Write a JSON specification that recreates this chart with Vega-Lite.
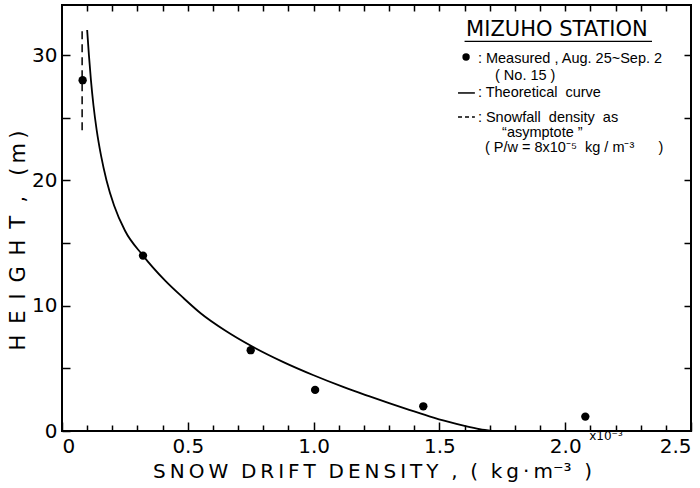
{
  "$schema": "https://vega.github.io/schema/vega-lite/v6.json",
  "width": 629,
  "height": 426,
  "autosize": {"type": "none"},
  "padding": {"left": 62, "top": 5, "right": 9, "bottom": 57},
  "background": "white",
  "config": {
    "view": {"stroke": "black", "strokeWidth": 2},
    "font": "DejaVu Sans",
    "axis": {
      "grid": false,
      "domain": false,
      "tickColor": "black",
      "tickWidth": 1.5,
      "labelColor": "black",
      "titleColor": "black",
      "labelFont": "DejaVu Sans",
      "titleFont": "DejaVu Sans",
      "labelFontSize": 20,
      "titleFontSize": 20,
      "titleFontWeight": "normal"
    }
  },
  "datasets": {
    "curve": [
      {"d": 0.100, "h": 32}, {"d": 0.107, "h": 30}, {"d": 0.115, "h": 28}, {"d": 0.125, "h": 26},
      {"d": 0.138, "h": 24}, {"d": 0.155, "h": 22}, {"d": 0.177, "h": 20}, {"d": 0.207, "h": 18},
      {"d": 0.250, "h": 16}, {"d": 0.322, "h": 14}, {"d": 0.41, "h": 12}, {"d": 0.478, "h": 10.7},
      {"d": 0.551, "h": 9.4}, {"d": 0.65, "h": 8.0}, {"d": 0.751, "h": 6.8}, {"d": 0.88, "h": 5.5},
      {"d": 1.0, "h": 4.45}, {"d": 1.12, "h": 3.5}, {"d": 1.22, "h": 2.78}, {"d": 1.3, "h": 2.22},
      {"d": 1.38, "h": 1.68}, {"d": 1.46, "h": 1.17}, {"d": 1.53, "h": 0.76}, {"d": 1.6, "h": 0.4},
      {"d": 1.66, "h": 0.14}, {"d": 1.71, "h": 0}
    ],
    "measured": [
      {"d": 0.082, "h": 28.0}, {"d": 0.322, "h": 14.0}, {"d": 0.75, "h": 6.45},
      {"d": 1.006, "h": 3.28}, {"d": 1.436, "h": 1.97}, {"d": 2.08, "h": 1.15}
    ],
    "asymptote": [{"d": 0.08, "h": 24, "h2": 32}],
    "heading": [{"x": 1.967, "y": 32.0, "label": "MIZUHO STATION"}],
    "underline": [{"x": 1.6, "x2": 2.345, "y": 31.1}],
    "legendText": [
      {"x": 1.653, "y": 29.7, "label": ": Measured , Aug. 25~Sep. 2"},
      {"x": 1.721, "y": 28.3, "label": "( No. 15 )"},
      {"x": 1.653, "y": 26.98, "label": ": Theoretical\u00a0 curve"},
      {"x": 1.653, "y": 25.0, "label": ": Snowfall\u00a0 density\u00a0 as"},
      {"x": 1.749, "y": 23.8, "label": "“asymptote ”"},
      {"x": 1.681, "y": 22.6, "label": "( P/w = 8x10⁻⁵\u00a0 kg / m⁻³\u00a0\u00a0\u00a0\u00a0\u00a0 )"}
    ],
    "legendDot": [{"x": 1.606, "y": 29.85}],
    "legendSolid": [{"x": 1.574, "x2": 1.641, "y": 26.98}],
    "legendDash": [{"x": 1.574, "x2": 1.641, "y": 25.06}],
    "unitNote": [{"x": 2.162, "y": -0.4, "label": "x10⁻³"}]
  },
  "layer": [
    {
      "data": {"name": "curve"},
      "mark": {"type": "line", "color": "black", "strokeWidth": 1.8, "interpolate": "monotone"},
      "encoding": {
        "x": {
          "field": "d", "type": "quantitative",
          "scale": {"domain": [0, 2.5], "nice": false, "zero": false},
          "axis": {
            "orient": "bottom",
            "values": [0, 0.5, 1, 1.5, 2, 2.5],
            "tickSize": -9,
            "labelPadding": 14,
            "labelExpr": "datum.value == 0 ? '0' : format(datum.value, '.1f')",
            "title": "S\u2009N\u2009O\u2009W\u00a0 D\u2009R\u2009I\u2009F\u2009T\u00a0 D\u2009E\u2009N\u2009S\u2009I\u2009T\u2009Y\u00a0 ,\u00a0 (\u00a0 k\u2009g\u2009·\u2009m⁻³\u00a0 )",
            "titleX": 310,
            "titleY": 40,
            "titleBaseline": "middle"
          }
        },
        "y": {
          "field": "h", "type": "quantitative",
          "scale": {"domain": [0, 34], "nice": false, "zero": false},
          "axis": {
            "orient": "left",
            "values": [0, 5, 10, 15, 20, 25, 30],
            "tickSize": -8,
            "labelPadding": 13,
            "labelExpr": "datum.value % 10 == 0 ? datum.label : ''",
            "title": "H\u2009 E\u2009 I\u2009 G\u2009 H\u2009 T\u00a0 ,\u00a0\u00a0 (\u2009m\u2009)",
            "titleFontSize": 21,
            "titleX": -44,
            "titleY": 235,
            "titleAngle": -90,
            "titleAlign": "center",
            "titleBaseline": "middle"
          }
        }
      }
    },
    {
      "data": {"name": "measured"},
      "mark": {"type": "point", "filled": true, "color": "black", "size": 70, "opacity": 1},
      "encoding": {
        "x": {
          "field": "d", "type": "quantitative",
          "scale": {"domain": [0, 2.5], "nice": false, "zero": false},
          "axis": {
            "orient": "bottom",
            "values": [0.1, 0.2, 0.3, 0.4, 0.6, 0.7, 0.8, 0.9, 1.1, 1.2, 1.3, 1.4, 1.6, 1.7, 1.8, 1.9, 2.1, 2.2, 2.3, 2.4],
            "tickSize": -6,
            "labels": false,
            "title": null
          }
        },
        "y": {
          "field": "h", "type": "quantitative",
          "scale": {"domain": [0, 34], "nice": false, "zero": false},
          "axis": {
            "orient": "right",
            "values": [5, 10, 15, 20, 25, 30],
            "tickSize": -7,
            "labels": false,
            "title": null
          }
        }
      }
    },
    {
      "data": {"name": "asymptote"},
      "mark": {"type": "rule", "color": "black", "strokeWidth": 1.5, "strokeDash": [8, 5]},
      "encoding": {
        "x": {
          "field": "d", "type": "quantitative",
          "scale": {"domain": [0, 2.5], "nice": false, "zero": false},
          "axis": {
            "orient": "top",
            "values": [0.1, 0.2, 0.3, 0.4, 0.5, 0.6, 0.7, 0.8, 0.9, 1.0, 1.1, 1.2, 1.3, 1.4, 1.5, 1.6, 1.7, 1.8, 1.9, 2.0, 2.1, 2.2, 2.3, 2.4],
            "tickSize": -6,
            "labels": false,
            "title": null
          }
        },
        "y": {"field": "h", "type": "quantitative", "scale": {"domain": [0, 34], "nice": false, "zero": false}, "axis": null},
        "y2": {"field": "h2"}
      }
    },
    {
      "data": {"name": "heading"},
      "mark": {"type": "text", "fontSize": 21, "color": "black", "align": "center", "baseline": "middle"},
      "encoding": {
        "x": {"field": "x", "type": "quantitative", "axis": null},
        "y": {"field": "y", "type": "quantitative", "axis": null},
        "text": {"field": "label"}
      }
    },
    {
      "data": {"name": "underline"},
      "mark": {"type": "rule", "color": "black", "strokeWidth": 1.3},
      "encoding": {
        "x": {"field": "x", "type": "quantitative", "axis": null},
        "x2": {"field": "x2"},
        "y": {"field": "y", "type": "quantitative", "axis": null}
      }
    },
    {
      "data": {"name": "legendText"},
      "mark": {"type": "text", "font": "Liberation Sans", "fontSize": 14.5, "color": "black", "align": "left", "baseline": "middle"},
      "encoding": {
        "x": {"field": "x", "type": "quantitative", "axis": null},
        "y": {"field": "y", "type": "quantitative", "axis": null},
        "text": {"field": "label"}
      }
    },
    {
      "data": {"name": "legendDot"},
      "mark": {"type": "point", "filled": true, "color": "black", "size": 55, "opacity": 1},
      "encoding": {
        "x": {"field": "x", "type": "quantitative", "axis": null},
        "y": {"field": "y", "type": "quantitative", "axis": null}
      }
    },
    {
      "data": {"name": "legendSolid"},
      "mark": {"type": "rule", "color": "black", "strokeWidth": 1.5},
      "encoding": {
        "x": {"field": "x", "type": "quantitative", "axis": null},
        "x2": {"field": "x2"},
        "y": {"field": "y", "type": "quantitative", "axis": null}
      }
    },
    {
      "data": {"name": "legendDash"},
      "mark": {"type": "rule", "color": "black", "strokeWidth": 1.5, "strokeDash": [4, 3]},
      "encoding": {
        "x": {"field": "x", "type": "quantitative", "axis": null},
        "x2": {"field": "x2"},
        "y": {"field": "y", "type": "quantitative", "axis": null}
      }
    },
    {
      "data": {"name": "unitNote"},
      "mark": {"type": "text", "fontSize": 12, "color": "black", "align": "center", "baseline": "middle"},
      "encoding": {
        "x": {"field": "x", "type": "quantitative", "axis": null},
        "y": {"field": "y", "type": "quantitative", "axis": null},
        "text": {"field": "label"}
      }
    }
  ],
  "resolve": {"axis": {"x": "independent", "y": "independent"}}
}
